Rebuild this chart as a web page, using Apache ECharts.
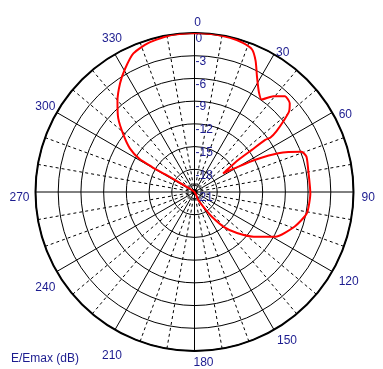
<!DOCTYPE html>
<html><head><meta charset="utf-8">
<script src="https://cdn.jsdelivr.net/npm/echarts@6/dist/echarts.min.js"></script>
<style>html,body{margin:0;padding:0;background:#fff}#c{width:383px;height:369px}</style>
</head><body><div id="c"></div>
<script>
// Radiation pattern: angle (deg, clockwise from top) and relative level E/Emax (dB)
const angleDeg = [0, 7, 13, 18, 22, 25, 28.5, 32.8, 36, 39.5, 43.4, 47, 49.6, 51.5, 53.4, 54.4, 53.6, 53.7, 53.8, 57,
  60, 62, 65.2, 69.4, 72.5, 79, 90.6, 100.7, 109, 119, 127, 134, 140, 145, 148, 155, 230,
  302, 301, 300.5, 301, 304, 308.7, 314, 319.6, 325.6, 330.7, 336.2, 342.7, 351.7, 360];
const levelDb = [0, 0, -0.1, -0.3, -0.7, -1.9, -3.7, -5.3, -5.9, -4.6, -3.6, -3.8, -4.6, -6.0, -7.5, -8.7, -9.4, -11.6, -13.8, -16.5,
  -14.3, -12.0, -8.8, -5.9, -5.5, -5.7, -5.7, -5.9, -7.0, -8.8, -11.2, -13.2, -15.0, -17.0, -18.4, -19.8, -21,
  -19, -16.5, -14.5, -12.5, -10.7, -9.0, -7.0, -5.3, -3.6, -2.3, -1.0, -0.4, -0.05, 0];
const angleTicks = [0, 30, 60, 90, 120, 150, 180, 210, 240, 270, 300, 330];
const radiusTicks = [-21, -18, -15, -12, -9, -6, -3, 0];
const axisTitle = 'E/Emax (dB)';

const FONT = '"Liberation Sans", Arial, sans-serif';
const BLUE = '#1c1c8f';
// label nudges (padding: top, right, bottom, left)
const labelPad = {0:[0,0,0,6], 30:[0,0,-8,0], 60:[0,0,-10,3], 90:[11,0,0,4], 120:[2,0,0,3], 150:[2,0,0,1],
  180:[2,0,0,18], 210:[17,-9,0,0], 240:[8,-2,0,0], 270:[11,2,0,0], 300:[0,-2,-2,0], 330:[0,-9,6,0]};
const rich = {};
angleTicks.forEach(a => { rich['a' + a] = {padding: labelPad[a], fontSize: 12, fontFamily: FONT, color: BLUE}; });

const chart = echarts.init(document.getElementById('c'), null, {renderer: 'canvas'});
chart.setOption({
  animation: false,
  backgroundColor: '#fff',
  title: {text: axisTitle, left: 11, top: 353, padding: 0,
    textStyle: {fontSize: 12, fontWeight: 'normal', color: BLUE, fontFamily: FONT}},
  polar: {center: [194.5, 192], radius: 159},
  angleAxis: {
    type: 'value', min: 0, max: 360, interval: 30, startAngle: 90, clockwise: true,
    axisLine: {show: true, lineStyle: {color: '#000', width: 2}},
    axisTick: {show: false},
    axisLabel: {show: true, margin: 4, color: BLUE, fontSize: 12, fontFamily: FONT,
      formatter: v => (angleTicks.indexOf(v) >= 0 ? '{a' + v + '|' + v + '}' : ''), rich: rich},
    splitLine: {show: true, lineStyle: {color: '#000', width: 1}},
    minorTick: {show: false, splitNumber: 3},
    minorSplitLine: {show: true, lineStyle: {color: '#000', width: 1, type: [3, 3]}}
  },
  radiusAxis: {
    type: 'value', min: radiusTicks[0], max: radiusTicks[radiusTicks.length - 1], interval: 3,
    axisLine: {show: true, lineStyle: {color: '#000', width: 1}},
    axisTick: {show: false},
    axisLabel: {show: true, margin: -1, align: 'left', verticalAlign: 'top', color: BLUE, fontSize: 12, fontFamily: FONT},
    splitLine: {show: true, lineStyle: {color: '#000', width: 1}}
  },
  series: [{
    type: 'line', coordinateSystem: 'polar',
    data: angleDeg.map((a, i) => [levelDb[i], a]),
    symbol: 'none', showSymbol: false, smooth: 0.2,
    lineStyle: {color: '#ff0000', width: 2}, z: 5
  }]
});
</script></body></html>
